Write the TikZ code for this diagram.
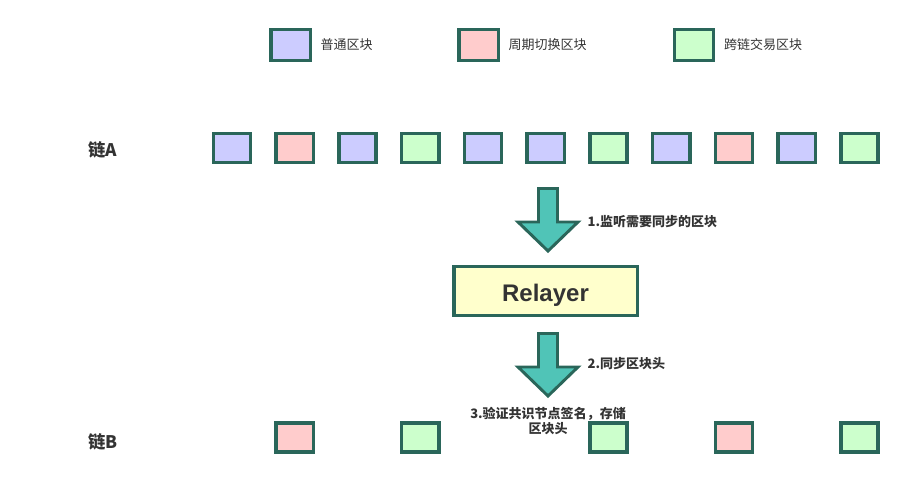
\documentclass[tikz,border=0pt]{standalone}
\usepackage{fontspec}
\setmainfont{Liberation Sans}
\newfontfamily\cjk{Noto Sans CJK SC}
\usetikzlibrary{positioning}
\definecolor{blkborder}{RGB}{42,102,90}
\definecolor{blkblue}{RGB}{204,204,255}
\definecolor{blkpink}{RGB}{255,204,204}
\definecolor{blkgreen}{RGB}{204,255,204}
\definecolor{relayfill}{RGB}{255,255,204}
\definecolor{arrowfill}{RGB}{80,196,183}
\definecolor{txtgray}{RGB}{51,51,51}
\tikzset{
  block/.style={draw=blkborder, line width=2.6pt, minimum width=28pt,
    minimum height=21.5pt, inner sep=0pt},
  legblock/.style={block, minimum width=29.6pt, minimum height=23pt},
  lbl/.style={text=txtgray, font=\cjk\fontsize{9.75}{11.25}\selectfont},
  steplbl/.style={lbl, font=\cjk\bfseries\fontsize{9.75}{11.25}\selectfont},
  chainlbl/.style={text=txtgray, inner sep=0pt, font=\cjk\bfseries\fontsize{13}{15}\selectfont},
  bigarrow/.style={draw=blkborder, fill=arrowfill, line width=2.2pt, line join=miter}
}
\begin{document}
\begin{tikzpicture}[x=0.75pt,y=-0.75pt]
  \useasboundingbox (0,0) rectangle (905,486);
  % Legend
  \node[legblock, fill=blkblue] (leg1) at (290.5,45) {};
  \node[lbl, right=3pt of leg1] (leg1txt) {普通区块};
  \node[legblock, fill=blkpink] (leg2) at (478.5,45) {};
  \node[lbl, right=3pt of leg2] (leg2txt) {周期切换区块};
  \node[legblock, fill=blkgreen] (leg3) at (694,45) {};
  \node[lbl, right=3pt of leg3] (leg3txt) {跨链交易区块};
  % Chain A
  \node[chainlbl, anchor=west] (chainA) at (88,150) {链A};
  \foreach \i/\c in {0/blkblue, 1/blkpink, 2/blkblue, 3/blkgreen, 4/blkblue,
      5/blkblue, 6/blkgreen, 7/blkblue, 8/blkpink, 9/blkblue, 10/blkgreen}{
    \node[block, fill=\c] (a\i) at (232+62.75*\i,148) {};
  }
  % Chain B
  \node[chainlbl, anchor=west] (chainB) at (88,442) {链B};
  \foreach \i/\c in {1/blkpink, 3/blkgreen, 6/blkgreen, 8/blkpink, 10/blkgreen}{
    \node[block, fill=\c] (b\i) at (232+62.75*\i,437.5) {};
  }
  % Relayer
  \node[draw=blkborder, fill=relayfill, line width=2.6pt, minimum width=137.6pt,
    minimum height=36.4pt, text height=16pt, text depth=0pt, text=txtgray,
    font=\bfseries\fontsize{18}{20}\selectfont]
    (relayer) at (545.5,291) {Relayer};
  % Arrow 1: chain A -> Relayer
  \draw[bigarrow] (538.5,188.5) -- (557.5,188.5) -- (557.5,222) -- (578,222)
    -- (548,251) -- (518,222) -- (538.5,222) -- cycle;
  \node[steplbl, anchor=west] (step1) at (583,222) {1.监听需要同步的区块};
  % Arrow 2: Relayer -> chain B
  \draw[bigarrow] (538.5,333.5) -- (557.5,333.5) -- (557.5,367) -- (578,367)
    -- (548,396) -- (518,367) -- (538.5,367) -- cycle;
  \node[steplbl, anchor=west] (step2) at (583,364) {2.同步区块头};
  \node[steplbl, align=center] (step3) at (548,421) {3.验证共识节点签名，存储\\区块头};
\end{tikzpicture}
\end{document}
